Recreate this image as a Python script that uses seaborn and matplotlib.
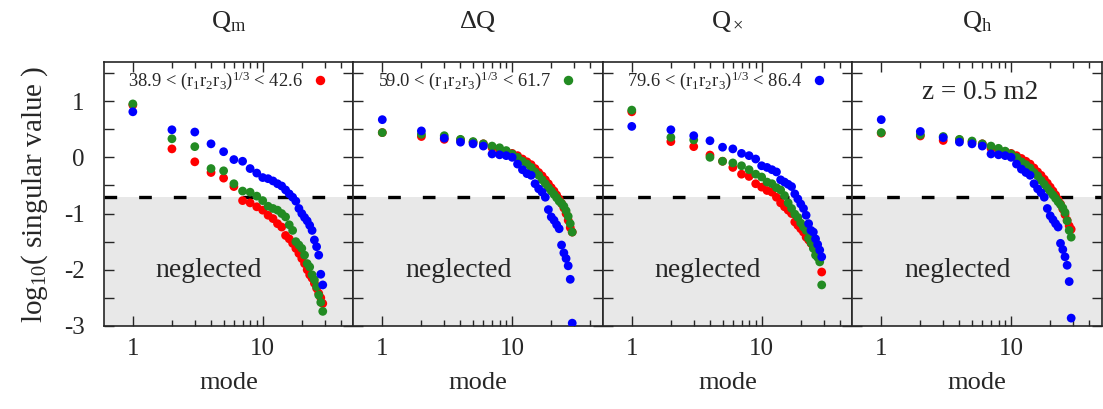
import numpy as np
import pandas as pd
import seaborn as sns
import matplotlib.pyplot as plt
from matplotlib.ticker import FixedLocator, MultipleLocator, FuncFormatter, NullFormatter
from matplotlib.lines import Line2D

# %%
modes = list(range(1, 30))

panel_titles = [r"$\mathrm{Q_m}$", r"$\Delta\mathrm{Q}$", r"$\mathrm{Q_\times}$", r"$\mathrm{Q_h}$"]
bin_labels = [r"38.9 < (r$_1$r$_2$r$_3$)$^{1/3}$ < 42.6",
              r"59.0 < (r$_1$r$_2$r$_3$)$^{1/3}$ < 61.7",
              r"79.6 < (r$_1$r$_2$r$_3$)$^{1/3}$ < 86.4"]
bin_colors = ["#ff0000", "#228b22", "#0000ff"]

# log10 singular values, one list per panel and bin (red, green, blue)
qm_red = [0.93, 0.15, -0.08, -0.27, -0.37, -0.52, -0.77, -0.81, -0.88, -0.94, -1.03, -1.09, -1.18, -1.24, -1.39,
          -1.45, -1.53, -1.62, -1.71, -1.80, -1.89, -2.00, -2.09, -2.15, -2.24, -2.33, -2.42, -2.50, -2.60]
qm_green = [0.95, 0.33, 0.19, -0.20, -0.24, -0.47, -0.60, -0.62, -0.69, -0.77, -0.87, -0.91, -0.94, -1.00, -1.06,
            -1.20, -1.30, -1.50, -1.56, -1.62, -1.74, -1.89, -1.95, -2.09, -2.18, -2.30, -2.45, -2.58, -2.74]
qm_blue = [0.81, 0.49, 0.45, 0.24, 0.10, -0.04, -0.07, -0.20, -0.28, -0.36, -0.38, -0.42, -0.47, -0.51, -0.58,
           -0.65, -0.71, -0.78, -0.91, -1.00, -1.07, -1.13, -1.21, -1.30, -1.47, -1.59, -1.74, -2.08, -2.27]

dq_red = [0.44, 0.37, 0.32, 0.31, 0.27, 0.24, 0.17, 0.13, 0.10, 0.07, 0.03, -0.03, -0.08, -0.13, -0.20,
          -0.27, -0.33, -0.40, -0.47, -0.54, -0.60, -0.67, -0.74, -0.82, -0.90, -1.00, -1.12, -1.25, -1.33]
dq_green = [0.44, 0.41, 0.385, 0.32, 0.28, 0.24, 0.20, 0.17, 0.12, 0.06, 0.00, -0.07, -0.12, -0.18, -0.26,
            -0.32, -0.40, -0.47, -0.54, -0.60, -0.66, -0.72, -0.78, -0.82, -0.87, -0.95, -1.05, -1.18, -1.33]
dq_blue = [0.67, 0.47, 0.34, 0.27, 0.24, 0.20, 0.06, 0.045, 0.03, 0.00, -0.12, -0.22, -0.29, -0.32, -0.47,
           -0.56, -0.62, -0.71, -0.93, -1.06, -1.12, -1.20, -1.27, -1.56, -1.70, -1.80, -1.93, -2.17, -2.95]

qx_red = [0.81, 0.28, 0.19, 0.04, -0.07, -0.18, -0.30, -0.34, -0.47, -0.53, -0.59, -0.62, -0.71, -0.81, -0.88,
          -0.94, -1.00, -1.15, -1.21, -1.27, -1.33, -1.42, -1.47, -1.53, -1.58, -1.65, -1.68, -1.77, -2.04]
qx_green = [0.84, 0.355, 0.31, 0.00, -0.07, -0.10, -0.15, -0.22, -0.30, -0.35, -0.44, -0.47, -0.54, -0.58, -0.68,
            -0.81, -0.91, -1.01, -1.07, -1.17, -1.24, -1.30, -1.44, -1.52, -1.62, -1.74, -1.78, -1.86, -2.27]
qx_blue = [0.55, 0.49, 0.385, 0.295, 0.18, 0.15, 0.07, 0.03, -0.03, -0.15, -0.18, -0.22, -0.26, -0.40, -0.44,
           -0.48, -0.52, -0.65, -0.74, -0.83, -0.91, -1.03, -1.18, -1.30, -1.33, -1.45, -1.55, -1.65, -1.77]

qh_red = [0.43, 0.38, 0.30, 0.31, 0.27, 0.24, 0.16, 0.13, 0.10, 0.07, 0.03, -0.02, -0.07, -0.12, -0.19,
          -0.26, -0.32, -0.39, -0.46, -0.53, -0.60, -0.67, -0.75, -0.83, -0.92, -1.02, -1.12, -1.22, -1.28]
qh_green = [0.44, 0.40, 0.37, 0.32, 0.29, 0.24, 0.20, 0.16, 0.11, 0.06, 0.00, -0.08, -0.13, -0.19, -0.27,
            -0.33, -0.41, -0.48, -0.55, -0.61, -0.67, -0.73, -0.79, -0.84, -0.90, -0.98, -1.13, -1.30, -1.42]
qh_blue = [0.67, 0.46, 0.35, 0.27, 0.24, 0.20, 0.06, 0.045, 0.03, 0.00, -0.12, -0.21, -0.27, -0.32, -0.47,
           -0.56, -0.63, -0.71, -0.91, -1.04, -1.11, -1.18, -1.24, -1.53, -1.64, -1.77, -1.92, -2.21, -2.86]

threshold = -0.7

# %%
panels = [[qm_red, qm_green, qm_blue],
          [dq_red, dq_green, dq_blue],
          [qx_red, qx_green, qx_blue],
          [qh_red, qh_green, qh_blue]]

rows = []
for p, series in enumerate(panels):
    for b, vals in enumerate(series):
        for m, v in zip(modes, vals):
            rows.append({"panel": p, "bin": b, "mode": m, "value": v})
df = pd.DataFrame(rows)

# %%
sns.set_style("ticks")
plt.rcParams["font.family"] = ["Liberation Serif", "DejaVu Serif"]
plt.rcParams["mathtext.fontset"] = "custom"
plt.rcParams["mathtext.rm"] = "Liberation Serif"
plt.rcParams["mathtext.it"] = "Liberation Serif:italic"
plt.rcParams["font.size"] = 18

fig, axes = plt.subplots(1, 4, figsize=(11.03, 4.09), dpi=100, sharey=True)
fig.subplots_adjust(left=0.0943, right=0.999, bottom=0.203, top=0.849, wspace=0)

for p, ax in enumerate(axes):
    ax.axhspan(-3, threshold, color="#e8e8e8", lw=0, zorder=0)
    ax.axhline(threshold, color="black", lw=2.4, dashes=(3.8, 6.6), zorder=1)

    sub = df[df["panel"] == p]
    sns.scatterplot(data=sub, x="mode", y="value", hue="bin", palette=bin_colors,
                    s=40, linewidth=0, legend=False, ax=ax, zorder=3)

    ax.set_xscale("log")
    ax.set_xlim(0.6, 50)
    ax.set_ylim(-3, 1.7)
    ax.xaxis.set_major_locator(FixedLocator([1, 10]))
    ax.xaxis.set_minor_locator(FixedLocator([2, 3, 4, 5, 6, 7, 8, 9, 20, 30, 40]))
    ax.xaxis.set_major_formatter(FuncFormatter(lambda v, pos: f"{v:g}"))
    ax.xaxis.set_minor_formatter(NullFormatter())
    ax.yaxis.set_major_locator(MultipleLocator(0.5))
    ax.yaxis.set_major_formatter(FuncFormatter(lambda v, pos: f"{v:.0f}" if abs(v - round(v)) < 1e-6 else ""))
    ax.tick_params(which="both", direction="in", top=True, right=True, width=1.0, labelsize=18)
    ax.tick_params(which="major", length=7)
    ax.tick_params(axis="x", which="major", pad=9)
    ax.tick_params(axis="y", which="major", pad=14)
    ax.tick_params(which="minor", length=4)
    for sp in ax.spines.values():
        sp.set_linewidth(1.2)

    ax.set_xlabel("mode", fontsize=19, labelpad=8)
    ax.set_ylabel("")
    ax.set_title(panel_titles[p], fontsize=19, pad=24)
    ax.text(0.42, 0.21, "neglected", transform=ax.transAxes, ha="center", va="center", fontsize=20, zorder=2)

    if p < 3:
        handle = Line2D([], [], ls="none", marker="o", ms=6.8, mec="none", color=bin_colors[p])
        ax.legend([handle], [bin_labels[p]], loc="upper left", bbox_to_anchor=(0.075, 0.99),
                  frameon=False, markerfirst=False, fontsize=13.3, handletextpad=0.4,
                  handlelength=1.0, borderaxespad=0.0, borderpad=0.3)
    else:
        ax.text(0.51, 0.885, "z = 0.5 m2", transform=ax.transAxes, ha="center", va="center", fontsize=19.5)

axes[0].set_ylabel(r"log$_{10}$( singular value )", fontsize=21, labelpad=10)
for ax in axes[1:]:
    ax.tick_params(axis="y", labelleft=False)

fig.savefig("out.png", dpi=100)
